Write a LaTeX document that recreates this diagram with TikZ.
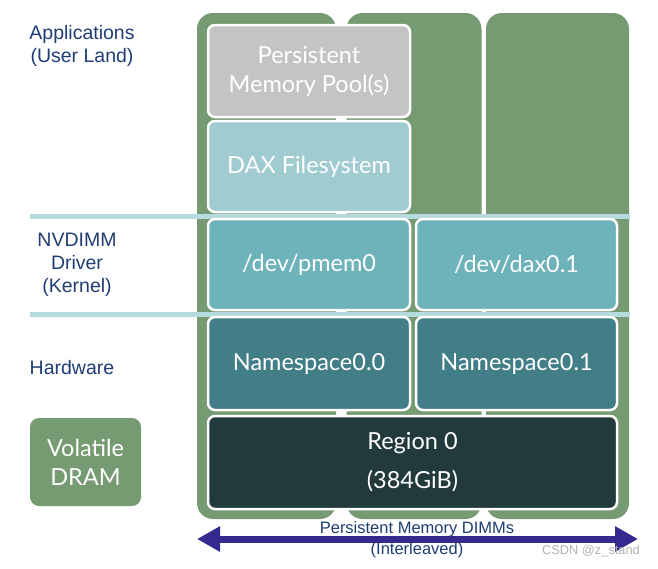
\documentclass[tikz,border=0pt]{standalone}
\usepackage{fontspec}
\setmainfont{Lato}
\newfontfamily\labfont{Liberation Sans}
\usetikzlibrary{arrows.meta}
\definecolor{dimm}{HTML}{769A72}
\definecolor{poolc}{HTML}{C4C4C4}
\definecolor{daxc}{HTML}{9FCBD1}
\definecolor{pmemc}{HTML}{6EB2BA}
\definecolor{nsc}{HTML}{427E87}
\definecolor{regc}{HTML}{233A3D}
\definecolor{sepc}{HTML}{B5DBDF}
\definecolor{labc}{HTML}{1F3D73}
\definecolor{arrc}{HTML}{33298F}
\begin{document}
\begin{tikzpicture}[x=1pt,y=-1pt,
  dimmcol/.style={fill=dimm, draw=none, rounded corners=16pt, inner sep=0pt},
  layerbox/.style={draw=white, line width=2.5pt, rounded corners=7pt, text=white,
    font=\fontsize{23.5}{29}\selectfont, align=center, inner sep=0pt},
  seplayer/.style={draw=sepc, line width=5pt},
  lab/.style={text=labc, font=\labfont\fontsize{19.5}{23}\selectfont, align=center, inner sep=0pt},
  arrlab/.style={text=labc, font=\labfont\fontsize{16.5}{21}\selectfont, align=center, inner sep=0pt}]
\useasboundingbox (0,0) rectangle (658,568);
% DIMM columns
\node[dimmcol, minimum width=139pt, minimum height=506pt] (c1) at (266.5,266) {};
\node[dimmcol, minimum width=135pt, minimum height=506pt] (c2) at (414,266) {};
\node[dimmcol, minimum width=143pt, minimum height=506pt] (c3) at (557.5,266) {};
% layer separators
\coordinate (s1l) at (30,216); \coordinate (s1r) at (630,216);
\coordinate (s2l) at (30,314); \coordinate (s2r) at (630,314);
\draw[seplayer] (s1l) -- (s1r);
\draw[seplayer] (s2l) -- (s2r);
% boxes
\node[layerbox, fill=poolc, minimum width=202pt, minimum height=92pt] (pool) at (309,71) {Persistent\\Memory Pool(s)};
\node[layerbox, fill=daxc, minimum width=202pt, minimum height=91pt] (dax) at (309,166.5) {DAX Filesystem};
\node[layerbox, fill=pmemc, minimum width=202pt, minimum height=91pt] (pmem) at (309,264.5) {/dev/pmem0};
\node[layerbox, fill=pmemc, minimum width=201pt, minimum height=91pt] (daxdev) at (516.5,264.5) {/dev/dax0.1};
\node[layerbox, fill=nsc, minimum width=202pt, minimum height=93pt] (ns0) at (309,363.5) {Namespace0.0};
\node[layerbox, fill=nsc, minimum width=201pt, minimum height=93pt] (ns1) at (516.5,363.5) {Namespace0.1};
\node[layerbox, fill=regc, minimum width=409pt, minimum height=93pt] (reg) at (412.5,462.5) {Region 0\\[10pt](384GiB)};
\node[fill=dimm, rounded corners=9pt, text=white, font=\fontsize{23.5}{29}\selectfont, align=center,
  inner sep=0pt, minimum width=111pt, minimum height=88pt] (dram) at (85.5,462) {Volatile\\DRAM};
% left labels
\node[lab] (apps) at (82,45.5) {Applications\\(User Land)};
\node[lab] (drv) at (77,265) {NVDIMM\\Driver\\(Kernel)};
\node[lab] (hw) at (72,368) {Hardware};
% arrow
\coordinate (al) at (197,539);
\coordinate (ar) at (638,539);
\draw[arrc, line width=7pt, {Triangle[length=23pt,width=24pt]}-{Triangle[length=23pt,width=24pt]}] (al) -- (ar);
\node[arrlab] (pm) at (417,529) {Persistent Memory DIMMs};
\node[arrlab] (il) at (417,550) {(Interleaved)};
\node[text=black!30, font=\labfont\fontsize{12.8}{15}\selectfont, inner sep=0pt] (wm) at (591,551) {CSDN @z\_stand};
\end{tikzpicture}
\end{document}
